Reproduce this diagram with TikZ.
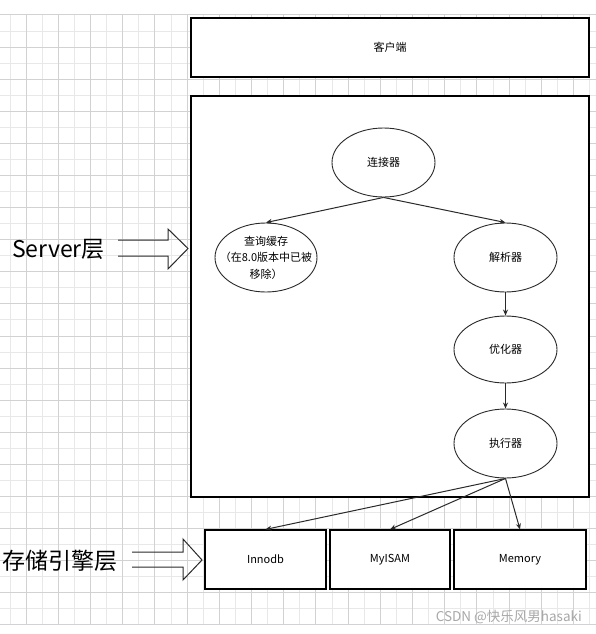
\documentclass[tikz,border=0pt]{standalone}
\usepackage{fontspec}
\setmainfont{Noto Sans CJK SC}
\usetikzlibrary{shapes.geometric,arrows.meta}
\definecolor{gmajor}{HTML}{D2D2D2}
\definecolor{gminor}{HTML}{E8E8E8}
\definecolor{edge}{HTML}{2A2A2A}
\definecolor{wm}{HTML}{A8A8A8}
\tikzset{
  box/.style={draw=black,line width=1.2pt,rectangle,minimum width=#1,minimum height=59pt,inner sep=0pt,font=\fontsize{11}{13}\selectfont},
  oval/.style={draw=edge,line width=0.9pt,ellipse,minimum width=103pt,minimum height=69pt,inner sep=0pt,align=center,font=\fontsize{11}{16.5}\selectfont},
  ovaltext/.style={inner sep=0pt,align=center,font=\fontsize{11}{16.5}\selectfont},
  link/.style={draw=edge,line width=1pt,-{Stealth[length=6pt,width=5pt]}},
  blockarrow/.style={draw=edge,line width=1pt,line join=miter},
  bigtext/.style={font=\fontsize{23}{26}\selectfont,inner sep=0pt}
}
\begin{document}
\begin{tikzpicture}[x=1pt,y=-1pt]
\useasboundingbox (0,0) rectangle (596,634);
\fill[white] (0,0) rectangle (596,634);
% grid
\foreach \k in {0,2,...,36} {\draw[gminor,line width=1pt] ({10+16.1*\k},15) -- ({10+16.1*\k},625);}
\foreach \j in {1,3,...,37} {\draw[gminor,line width=1pt] (0,{15+16.05*\j}) -- (596,{15+16.05*\j});}
\foreach \k in {1,3,...,35} {\draw[gmajor,line width=1pt] ({10+16.1*\k},15) -- ({10+16.1*\k},625);}
\foreach \j in {0,2,...,38} {\draw[gmajor,line width=1pt] (0,{15+16.05*\j}) -- (596,{15+16.05*\j});}

% client and server boxes
\node[box=398pt,fill=white] (client) at (390,47.5) {客户端};
\node[box=398pt,minimum height=401pt,fill=white] (server) at (390,296.5) {};

% ellipses
\node[oval] (conn) at (383.5,162.5) {连接器};
\node[oval,minimum width=102pt] (cache) at (266,257.5) {};
\node[ovaltext] (cachetext) at (cache.center) {查询缓存\\（在8.0版本中已被\\移除）};
\node[oval] (parse) at (505.5,257.5) {解析器};
\node[oval,minimum height=67pt] (opt) at (505.5,349.5) {优化器};
\node[oval] (exec) at (505.5,443.5) {执行器};

% storage engines
\node[box=121pt,fill=white] (innodb) at (265.5,559.5) {Innodb};
\node[box=120pt,fill=white] (myisam) at (390,559.5) {MyISAM};
\node[box=132pt,fill=white] (memory) at (520,559.5) {Memory};

% connectors
\draw[link] (conn.south) -- (cache.north);
\draw[link] (conn.south) -- (parse.north);
\draw[link] (parse.south) -- (opt.north);
\draw[link] (opt.south) -- (exec.north);
\draw[link] (exec.south) -- (innodb.north);
\draw[link] (exec.south) -- (myisam.north);
\draw[link] (exec.south) -- (memory.north);

% layer labels and block arrows
\node[bigtext] (serverlabel) at (58.5,249) {Server层};
\draw[blockarrow] (118,240) -- (168,240) -- (168,229) -- (188,248.5) -- (168,269) -- (168,256) -- (118,256);
\node[bigtext] (enginelabel) at (60,561) {存储引擎层};
\draw[blockarrow] (132,552) -- (183,552) -- (183,539) -- (202,560) -- (183,580) -- (183,567) -- (132,567);

% watermark
\node[anchor=east,text=wm,font=\fontsize{13.5}{15}\selectfont,inner sep=0pt] (mark) at (582,617) {CSDN @快乐风男hasaki};
\end{tikzpicture}
\end{document}
